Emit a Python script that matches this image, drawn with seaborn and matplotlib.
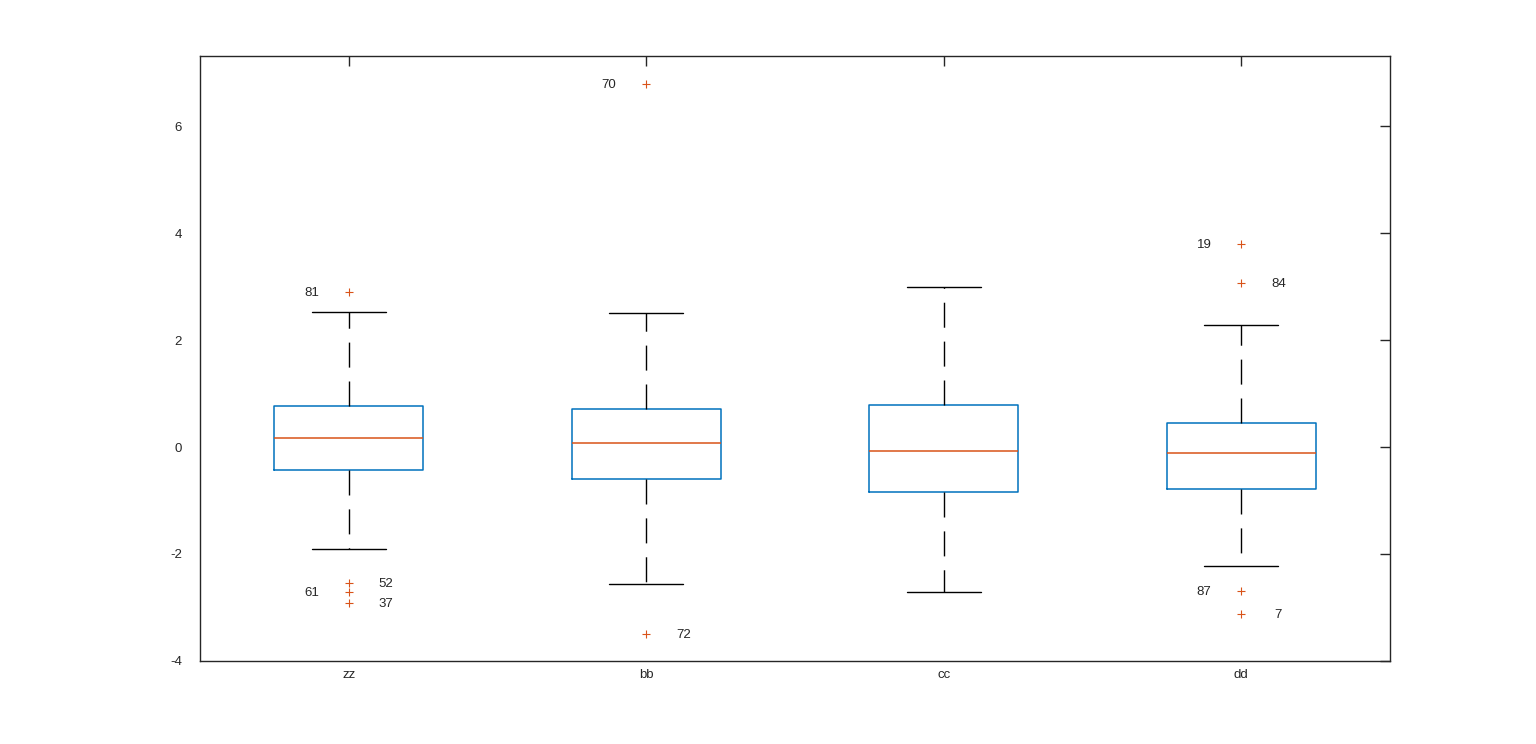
import numpy as np
import matplotlib
matplotlib.use("Agg")
import matplotlib.pyplot as plt
import seaborn as sns

groups = ['zz', 'bb', 'cc', 'dd']
q1 = [-0.43, -0.60, -0.84, -0.785]
medians = [0.168, 0.075, -0.075, -0.11]
q3 = [0.766, 0.71, 0.785, 0.45]
whisker_lo = [-1.91, -2.56, -2.71, -2.22]
whisker_hi = [2.52, 2.50, 2.99, 2.28]

outlier_group = [0, 0, 0, 0, 1, 1, 3, 3, 3, 3]
outlier_value = [2.90, -2.54, -2.71, -2.92, 6.79, -3.50, 3.79, 3.07, -2.69, -3.12]
outlier_label = ['81', '52', '61', '37', '70', '72', '19', '84', '87', '7']

sns.set_style('white')
plt.rcParams['font.family'] = ['Liberation Sans', 'DejaVu Sans']
plt.rcParams['axes.unicode_minus'] = False
fs = 9.5
dark = '#262626'
blue = '#0072BD'
orange = '#D95319'

fig = plt.figure(figsize=(15.36, 7.44), dpi=100)
ax = fig.add_axes([0.1302, 0.1116, 0.7747, 0.8131])

positions = np.arange(1, len(groups) + 1)
stats = []
for i, g in enumerate(groups):
    stats.append(dict(label=g, med=medians[i], q1=q1[i], q3=q3[i],
                      whislo=whisker_lo[i], whishi=whisker_hi[i], fliers=[]))

ax.bxp(stats, positions=positions, widths=0.5, capwidths=0.25, showfliers=False,
       boxprops=dict(color=blue, linewidth=1.1),
       medianprops=dict(color=orange, linewidth=1.1),
       whiskerprops=dict(color='k', linewidth=1.0, linestyle=(0, (18, 10))),
       capprops=dict(color='k', linewidth=1.0))

ox = [positions[g] for g in outlier_group]
sns.scatterplot(x=ox, y=outlier_value, marker='+', color=orange, s=35,
                linewidth=0.8, ax=ax, zorder=3)

for i, (x, y, lab) in enumerate(zip(ox, outlier_value, outlier_label)):
    dx = -0.125 if i % 2 == 0 else 0.125
    ax.text(x + dx, y - 0.02, lab, ha='center', va='center', color=dark, fontsize=fs)

ax.set_xlim(0.5, 4.5)
ax.set_ylim(-4, 7.31)
ax.set_xticks(positions)
ax.set_xticklabels(groups)
ax.set_yticks([-4, -2, 0, 2, 4, 6])
ax.tick_params(direction='in', length=7, width=1.0, color=dark, labelcolor=dark,
               top=True, right=True, labelsize=fs)
ax.tick_params(axis='y', pad=13)
ax.tick_params(axis='x', pad=6)
for s in ax.spines.values():
    s.set_color(dark)
    s.set_linewidth(1.0)

fig.savefig('out.png', dpi=100, facecolor='white')
